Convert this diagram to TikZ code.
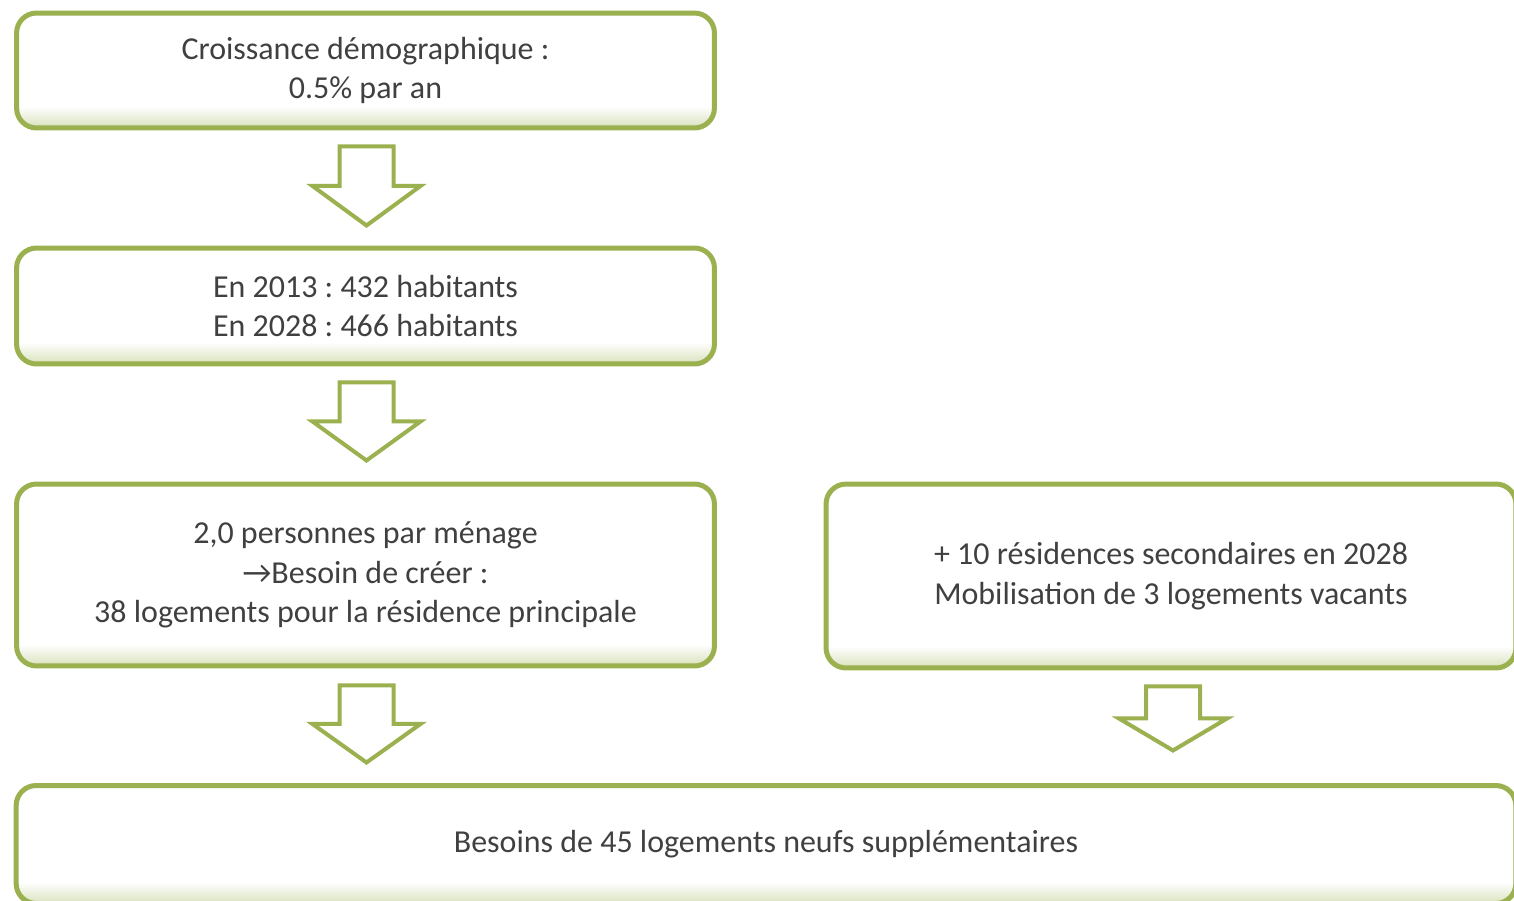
\documentclass[tikz,border=0pt]{standalone}
\usepackage{fontspec}
\setmainfont{Carlito}
\usetikzlibrary{calc}
\definecolor{boxgreen}{RGB}{155,177,79}
\definecolor{textgrey}{RGB}{64,64,64}
\tikzset{
  stepbox/.style={draw=boxgreen,line width=0.1cm,rounded corners=0.4cm,fill=white,
    align=center,text=textgrey,font=\fontsize{18.2pt}{22.4pt}\selectfont\frenchspacing,
    path picture={
      % soft inner shadow along the bottom edge
      \foreach \k in {1,...,10}
        \fill [sharp corners,boxgreen,fill opacity=0.035*\k]
          ([yshift={(11-\k)*0.04cm}]path picture bounding box.south west)
          rectangle ([yshift={(10-\k)*0.04cm}]path picture bounding box.south east);}},
  arrowline/.style={draw=boxgreen,line width=0.08cm,fill=white},
  pics/downarrow/.style={code={
    \draw [arrowline] (-27,0) -- (27,0) -- (27,{0.5*#1}) -- (54,{0.5*#1}) -- (0,#1)
      -- (-54,{0.5*#1}) -- (-27,{0.5*#1}) -- cycle;
  }},
}
\begin{document}
\begin{tikzpicture}[x=0.02cm,y=-0.02cm]
 \useasboundingbox (0,0) rectangle (1514,900);
 \clip (0,0) rectangle (1514,900);

 \node (node_0) at (365.5,70.5) [stepbox,minimum width=13.96cm,minimum height=2.30cm] {Croissance démographique :\\0.5\% par an};
 \node (node_1) at (365.5,306) [stepbox,minimum width=13.96cm,minimum height=2.32cm] {En 2013 : 432 habitants\\En 2028 : 466 habitants};
 \node (node_2) at (365.5,575) [stepbox,minimum width=13.96cm,minimum height=3.64cm] {2,0 personnes par ménage\\→Besoin de créer :\\38 logements pour la résidence principale};
 \node (node_3) at (1171,576) [stepbox,minimum width=13.80cm,minimum height=3.68cm] {+ 10 résidences secondaires en 2028\\Mobilisation de 3 logements vacants};
 \node (node_4) at (766,844.5) [stepbox,minimum width=30.00cm,minimum height=2.36cm] {Besoins de 45 logements neufs supplémentaires};

  \pic at ($(node_0.south)+(1,16)$) {downarrow=79};
  \pic at ($(node_1.south)+(1,16)$) {downarrow=78};
  \pic at ($(node_2.south)+(1,17)$) {downarrow=77};
  \pic at ($(node_3.south)+(2,16)$) {downarrow=64};

\end{tikzpicture}
\end{document}
